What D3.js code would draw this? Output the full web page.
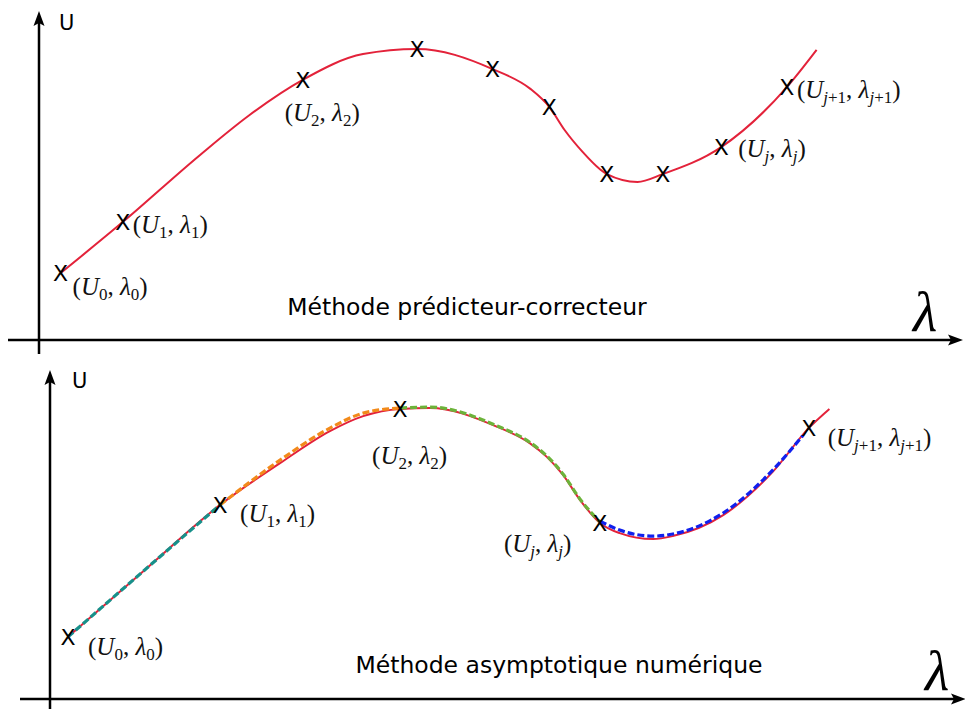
<!DOCTYPE html>
<html><head><meta charset="utf-8">
<script src="https://cdn.jsdelivr.net/npm/d3@7"></script>
<style>body{margin:0;background:#fff} svg{display:block}</style>
</head><body>
<svg id="chart" width="965" height="709"></svg>
<script>
// ---------- data (λ, U in arbitrary units 0..100) ----------
// top panel: exact branch
const topLambda = [2.4, 9.3, 17.9, 23.4, 29.3, 36.0, 42.0, 50.4, 54.6, 56.7, 58.4, 60.4, 62.3, 63.1, 66.5, 69.3, 75.8, 83.1, 86.4];
const topU      = [22.3, 39.3, 61.7, 75.0, 86.7, 95.3, 97.0, 90.3, 83.7, 77.7, 70.0, 62.7, 57.0, 55.3, 52.7, 55.3, 64.3, 84.3, 96.7];
// top panel: predictor-corrector points
const topMarkLambda = [2.4, 9.3, 29.3, 42.0, 50.4, 56.7, 63.1, 69.3, 75.8, 83.1];
const topMarkU      = [22.3, 39.3, 86.7, 97.0, 90.3, 77.7, 55.3, 55.3, 64.3, 84.3];
const topLabelSubs    = ["0", "1", "2", "j", "j+1"];
const topLabelMarkIdx = [0, 1, 2, 8, 9];

// bottom panel: exact branch
const botLambda = [2.0, 10.4, 18.9, 25.6, 31.1, 34.8, 38.9, 42.2, 49.7, 53.3, 55.2, 57.0, 58.9, 61.1, 63.3, 67.0, 69.2, 74.8, 80.3, 84.3, 86.6];
const botU      = [20.7, 42.7, 64.7, 78.7, 89.3, 94.3, 96.7, 97.0, 90.7, 85.3, 80.7, 74.7, 66.3, 58.7, 55.3, 53.3, 54.3, 61.3, 75.7, 90.3, 96.7];
// bottom panel: asymptotic series approximations (one per step)
const seg1Lambda = [2.0, 10.4, 18.9];
const seg1U      = [20.7, 42.7, 64.7];
const seg2Lambda = [18.9, 25.6, 31.1, 34.8, 38.9];
const seg2U      = [64.7, 79.7, 90.3, 95.3, 97.0];
const seg3Lambda = [38.9, 42.2, 49.7, 53.3, 55.2, 57.0, 58.9, 61.1];
const seg3U      = [97.0, 97.3, 91.0, 85.6, 81.0, 75.0, 66.6, 59.0];
const seg4Lambda = [61.1, 63.3, 67.0, 69.2, 74.8, 80.3, 83.7];
const seg4U      = [59.3, 56.3, 54.3, 55.0, 62.0, 76.3, 88.0];
const botMarkLambda = [2.0, 18.9, 38.9, 61.1, 84.3];
const botMarkU      = [20.7, 64.7, 96.7, 58.7, 90.3];
const botLabelSubs    = ["0", "1", "2", "j", "j+1"];
const botLabelMarkIdx = [0, 1, 2, 3, 4];

const titles = ["Méthode prédicteur-correcteur", "Méthode asymptotique numérique"];

// ---------- drawing ----------
const svg = d3.select("#chart");
const RED = "#e3223a";
const zip = (a, b) => a.map((v, i) => [v, b[i]]);

function arrowHead(g, x, y, dir) {
  const L = 15, W = 5.5, k = 3;
  let p;
  if (dir === "up") p = `M${x},${y} L${x + W},${y + L} L${x},${y + L - k} L${x - W},${y + L} Z`;
  else p = `M${x},${y} L${x - L},${y - W} L${x - L + k},${y} L${x - L},${y + W} Z`;
  g.append("path").attr("d", p).attr("fill", "#000");
}

function label(g, x, y, sub) {
  const t = g.append("text").attr("x", x).attr("y", y)
    .attr("font-family", "'Liberation Serif', 'DejaVu Serif', serif")
    .attr("font-size", 25).attr("fill", "#111");
  const subPart = (s) => {
    s.split("").forEach((ch, i) => {
      const sp = t.append("tspan").attr("font-size", 17).text(ch)
        .attr("font-style", /[a-z]/.test(ch) ? "italic" : "normal");
      if (i === 0) sp.attr("dy", 5);
    });
  };
  t.append("tspan").text("(");
  t.append("tspan").attr("font-style", "italic").text("U");
  subPart(sub);
  t.append("tspan").attr("dy", -5).text(", ");
  t.append("tspan").attr("font-style", "italic").text("λ");
  subPart(sub);
  t.append("tspan").attr("dy", -5).text(")");
}

function panel(cfg) {
  const g = svg.append("g");
  const x = d3.scaleLinear().domain([0, 100]).range(cfg.xRange);
  const y = d3.scaleLinear().domain([0, 100]).range(cfg.yRange);
  const x0 = x(0), y0 = y(0);
  g.append("line").attr("x1", cfg.xAxisFrom).attr("x2", cfg.xAxisTo - 8)
    .attr("y1", y0).attr("y2", y0).attr("stroke", "#000").attr("stroke-width", 2.5);
  arrowHead(g, cfg.xAxisTo, y0, "right");
  g.append("line").attr("x1", x0).attr("x2", x0)
    .attr("y1", cfg.yAxisFrom).attr("y2", cfg.yAxisTo + 8).attr("stroke", "#000").attr("stroke-width", 2.5);
  arrowHead(g, x0, cfg.yAxisTo, "up");
  g.append("text").attr("x", x0 + cfg.uDx).attr("y", cfg.yAxisTo + cfg.uDy)
    .attr("font-family", "'DejaVu Sans', sans-serif").attr("font-size", 21).text("U");
  g.append("text").attr("x", cfg.lamX).attr("y", y0 - 9)
    .attr("font-family", "'Liberation Serif', serif").attr("font-style", "italic")
    .attr("font-size", 56).text("λ");
  g.append("text").attr("x", cfg.titleX).attr("y", cfg.titleY).attr("text-anchor", "middle")
    .attr("font-family", "'DejaVu Sans', sans-serif").attr("font-size", 23.5).text(cfg.title);

  const line = d3.line().x(d => x(d[0])).y(d => y(d[1])).curve(d3.curveMonotoneX);
  g.append("path").attr("d", line(cfg.curve)).attr("fill", "none")
    .attr("stroke", RED).attr("stroke-width", 2);
  (cfg.segs || []).forEach(s => {
    g.append("path").attr("d", line(s.pts)).attr("fill", "none")
      .attr("stroke", s.color).attr("stroke-width", 3.2).attr("stroke-dasharray", s.dash);
  });
  cfg.marks.forEach(m => {
    g.append("text").attr("x", x(m[0])).attr("y", y(m[1]) + 8).attr("text-anchor", "middle")
      .attr("font-family", "'DejaVu Sans', sans-serif").attr("font-size", 22).text("X");
  });
  cfg.labels.forEach((lb, i) => {
    const m = cfg.marks[lb.idx];
    label(g, x(m[0]) + cfg.labelOff[i][0], y(m[1]) + cfg.labelOff[i][1], lb.sub);
  });
}

panel({
  xRange: [39, 939], yRange: [340, 40],
  xAxisFrom: 8, xAxisTo: 963, yAxisFrom: 354, yAxisTo: 11,
  uDx: 20, uDy: 19, lamX: 913,
  titleX: 467, titleY: 315, title: titles[0],
  curve: zip(topLambda, topU),
  marks: zip(topMarkLambda, topMarkU),
  labels: topLabelMarkIdx.map((idx, i) => ({ idx, sub: topLabelSubs[i] })),
  labelOff: [[12, 22], [10, 11], [-18, 41], [17, 10], [10, 11]]
});

panel({
  xRange: [50, 950], yRange: [699, 399],
  xAxisFrom: 20, xAxisTo: 966, yAxisFrom: 709, yAxisTo: 370,
  uDx: 22, uDy: 18, lamX: 925,
  titleX: 559, titleY: 673, title: titles[1],
  curve: zip(botLambda, botU),
  segs: [
    { pts: zip(seg1Lambda, seg1U), color: "#17908a", dash: "7,3" },
    { pts: zip(seg2Lambda, seg2U), color: "#f28a1a", dash: "7,3" },
    { pts: zip(seg3Lambda, seg3U), color: "#6cb33a", dash: "7,3" },
    { pts: zip(seg4Lambda, seg4U), color: "#1020ee", dash: "7,3" }
  ],
  marks: zip(botMarkLambda, botMarkU),
  labels: botLabelMarkIdx.map((idx, i) => ({ idx, sub: botLabelSubs[i] })),
  labelOff: [[20, 18], [20, 17], [-28, 55], [-96, 29], [19, 18]]
});
</script>
</body></html>
